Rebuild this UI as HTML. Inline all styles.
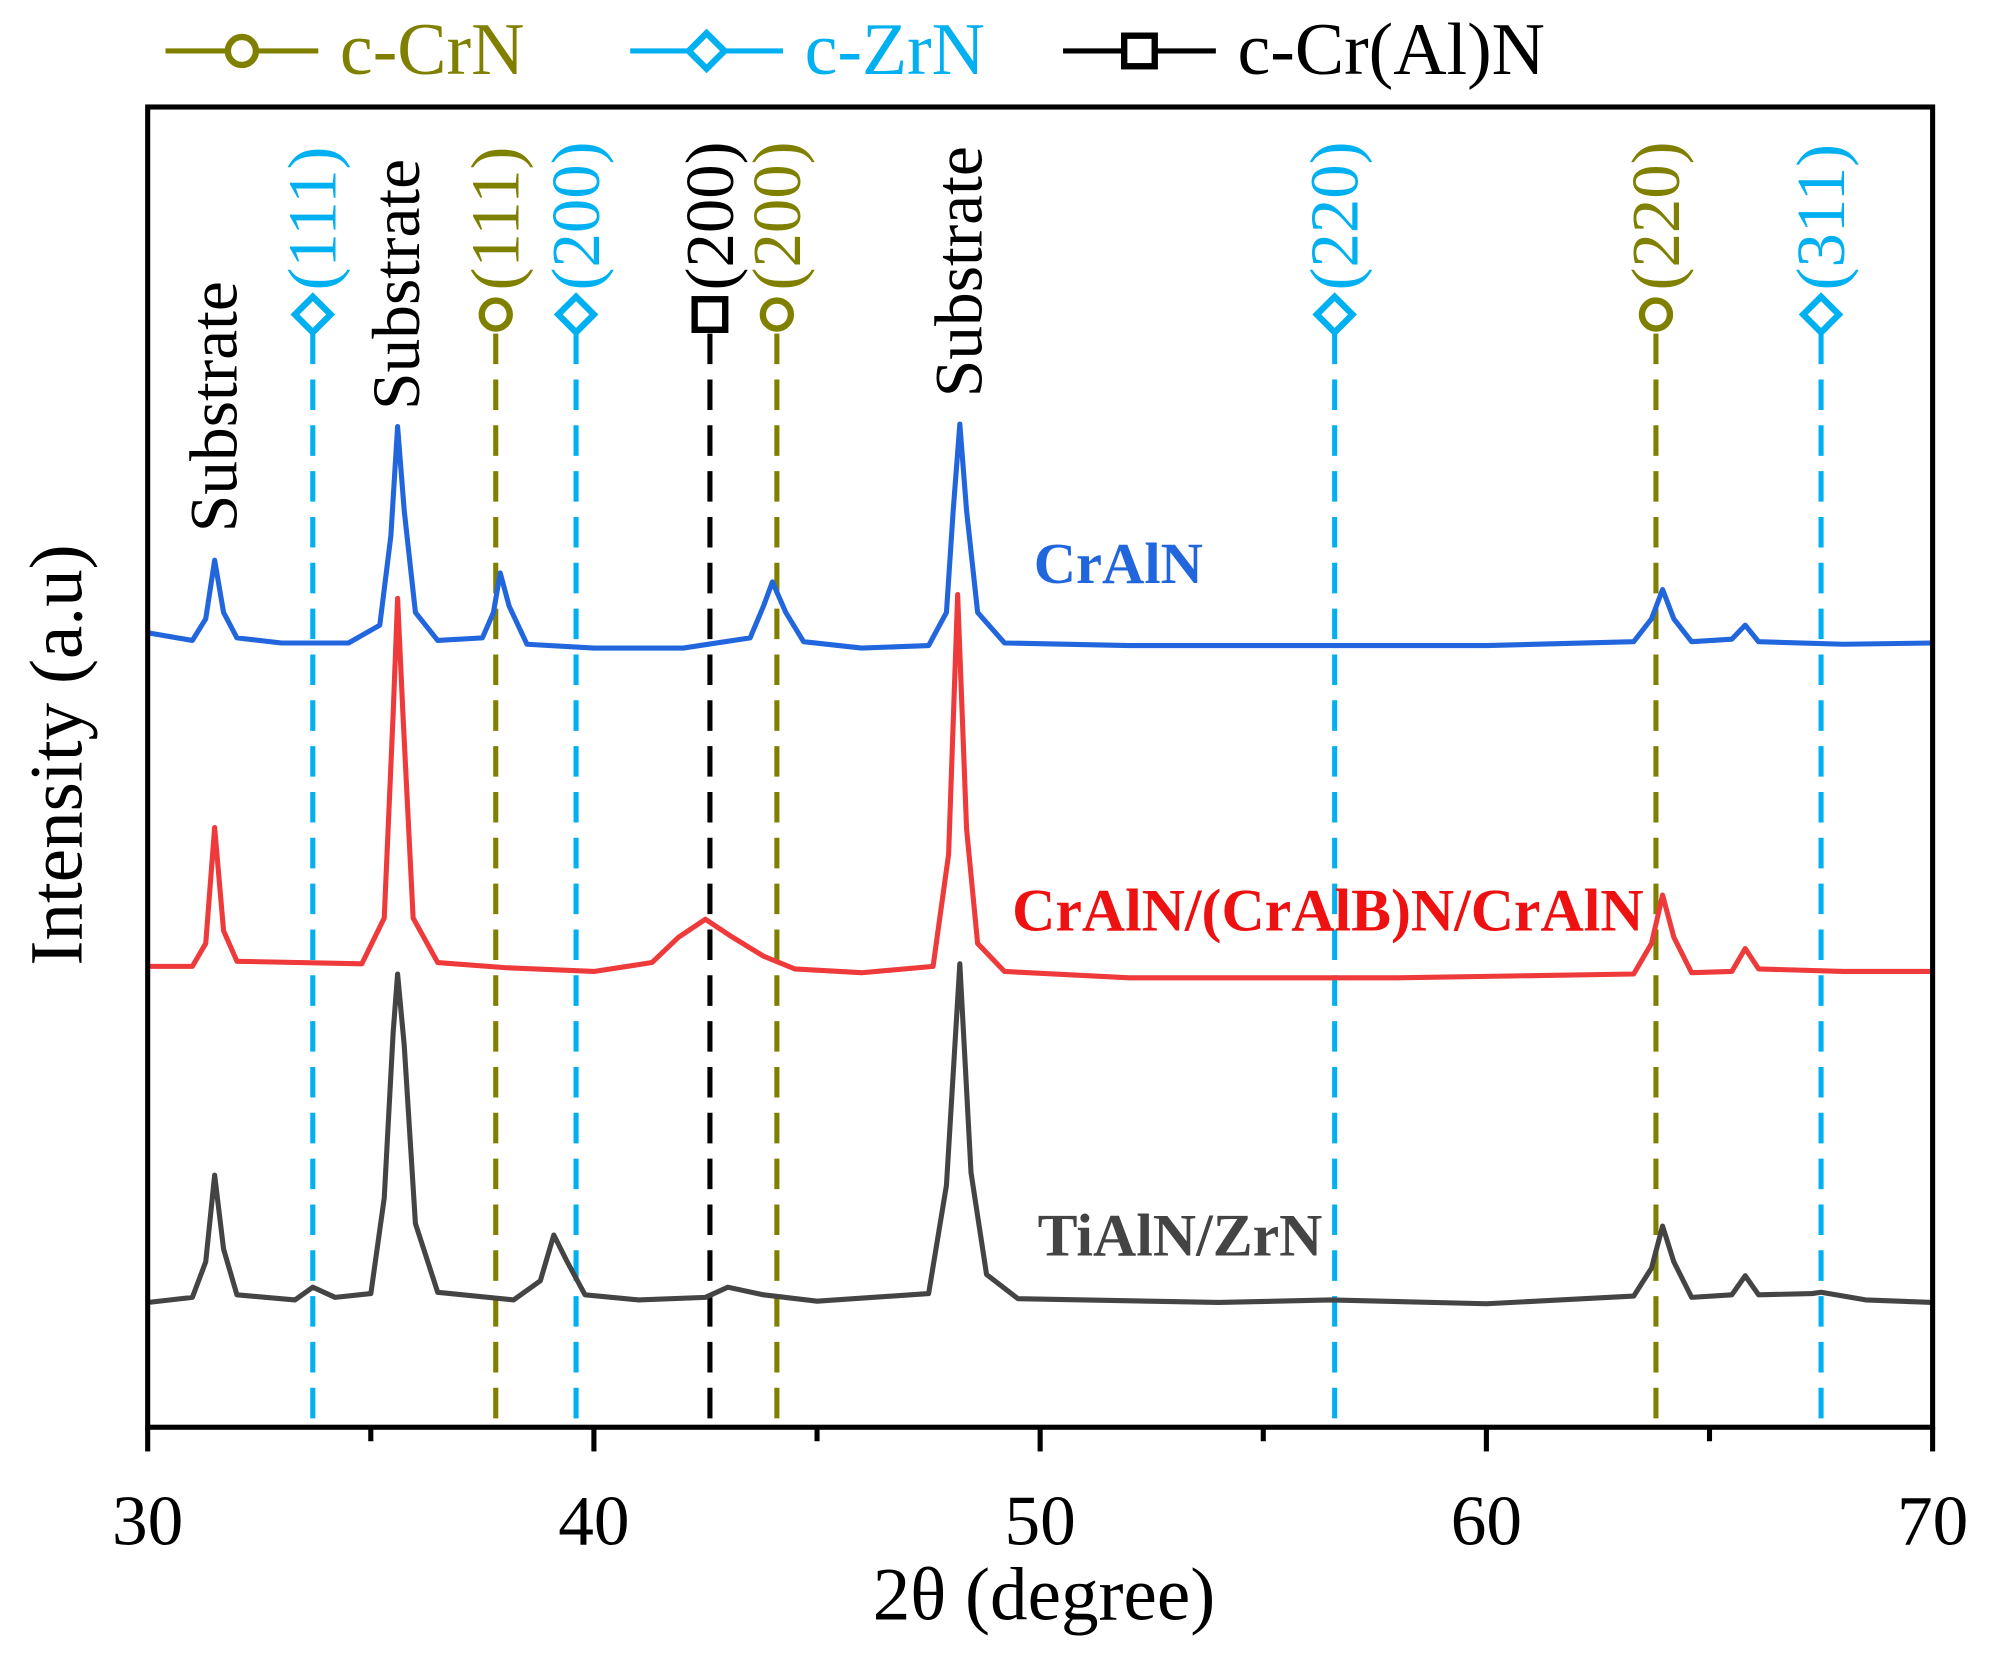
<!DOCTYPE html>
<html><head><meta charset="utf-8"><style>html,body{margin:0;padding:0;background:#fff}svg{display:block}text{font-family:"Liberation Serif",serif}</style></head>
<body>
<svg id="chart" width="1995" height="1659" viewBox="0 0 1567 1303" xmlns="http://www.w3.org/2000/svg" font-family="Liberation Serif, serif">
<g id="g"></g>
</svg>
<script>
const xTicks=[30,40,50,60,70];
const xMinor=[35,45,55,65];
const zrnPeaks=[33.7,39.6,56.6,67.5];
const zrnLabels=["(111)","(200)","(220)","(311)"];
const crnPeaks=[37.8,44.1,63.8];
const crnLabels=["(111)","(200)","(220)"];
const cralnPeaks=[42.6];
const cralnLabels=["(200)"];
const seriesCrAlN=[[30,624],[31.0,618],[31.3,635],[31.5,681],[31.7,640],[32.0,620],[33,616],[34.5,616],[35.2,630],[35.45,700],[35.6,786],[35.75,720],[36.0,640],[36.5,618],[37.5,620],[37.75,640],[37.9,671],[38.1,645],[38.5,615],[40,612],[42,612],[43.5,620],[43.8,645],[44.0,664],[44.3,640],[44.7,617],[46,612],[47.5,614],[47.9,640],[48.05,720],[48.2,788],[48.35,720],[48.6,640],[49.2,616],[52,614],[56,614],[60,614],[63.3,617],[63.7,635],[63.95,658],[64.2,635],[64.6,617],[65.5,619],[65.8,630],[66.1,617],[68,615],[70,616]];
const seriesMulti=[[30,362],[31,362],[31.3,380],[31.5,471],[31.7,390],[32,366],[34.8,364],[35.3,400],[35.5,560],[35.6,651],[35.72,560],[35.95,400],[36.5,365],[38,361],[40,358],[41.3,365],[41.9,385],[42.5,399],[43.1,385],[43.8,370],[44.5,360],[46,357],[47.6,362],[47.95,450],[48.15,654],[48.35,470],[48.6,380],[49.2,358],[52,353],[58,353],[63.3,356],[63.7,380],[63.95,418],[64.2,385],[64.6,357],[65.5,358],[65.8,376],[66.1,360],[68,358],[70,358]];
const seriesTiAlN=[[30,98],[31,102],[31.3,130],[31.5,198],[31.7,140],[32,104],[33.3,100],[33.7,110],[34.2,102],[35,105],[35.3,180],[35.5,310],[35.6,356],[35.75,300],[36.0,160],[36.5,106],[38.2,100],[38.8,115],[39.1,151],[39.4,130],[39.8,104],[41,100],[42.5,102],[43,110],[43.8,104],[45,99],[47.5,105],[47.9,190],[48.2,364],[48.45,200],[48.8,120],[49.5,101],[54,98],[56.5,100],[60,97],[63.3,103],[63.7,125],[63.95,158],[64.2,130],[64.6,102],[65.5,104],[65.8,119],[66.1,104],[67.3,105],[67.5,106],[68.5,100],[70,98]];

const L=116,R=1518,T=84,B=1121;
const xs=v=>L+(v-30)/40*(R-L);
const ys=v=>B-v;
const NS="http://www.w3.org/2000/svg";
const g=document.getElementById('g');
function mk(tag,attrs,parent){const e=document.createElementNS(NS,tag);for(const k in attrs)e.setAttribute(k,attrs[k]);(parent||g).appendChild(e);return e;}
function txt(s,attrs){attrs['font-family']='Liberation Serif, serif';const e=mk('text',attrs);e.textContent=s;return e;}
const OL="#808000",CY="#00b0f0";

function marker(type,x,y,col){
  let e;
  if(type==='c') e=mk('circle',{cx:x,cy:y,r:11,fill:'#fff',stroke:col,'stroke-width':5});
  else if(type==='d') e=mk('path',{d:`M${x} ${y-14}L${x+14} ${y}L${x} ${y+14}L${x-14} ${y}Z`,fill:'#fff',stroke:col,'stroke-width':5});
  else e=mk('rect',{x:x-12,y:y-12,width:24,height:24,fill:'#fff',stroke:col,'stroke-width':5});
  return e;
}
function refLines(peaks,labels,col,type,name){
  peaks.forEach((p,i)=>{
    const x=xs(p);
    const l=mk('line',{x1:x,y1:262,x2:x,y2:B,stroke:col,'stroke-width':4,'stroke-dasharray':'24,12'});
    
    
    const m=marker(type,x,247,col);
    
    
    const t=txt(labels[i],{x:0,y:0,transform:`translate(${x+18},228) rotate(-90)`,'font-size':54,fill:col});
    
    
  });
}
refLines(zrnPeaks,zrnLabels,CY,'d','zrn-ref');
refLines(crnPeaks,crnLabels,OL,'c','crn-ref');
refLines(cralnPeaks,cralnLabels,'#000','s','cr-al-n-ref');

function series(data,col,name){
  const d=data.map((p,i)=>(i?'L':'M')+xs(p[0]).toFixed(1)+' '+ys(p[1]).toFixed(1)).join('');
  const e=mk('path',{d,fill:'none',stroke:col,'stroke-width':4,'stroke-linejoin':'round'});
  
  
}
series(seriesCrAlN,'#2266dd','line-cralln');
series(seriesMulti,'#ee3a3a','line-cralln-cralbn');
series(seriesTiAlN,'#444444','line-tialn-zrn');

const fr=mk('rect',{x:L,y:T,width:R-L,height:B-T,fill:'none',stroke:'#000','stroke-width':4});


xTicks.forEach(v=>{
  const t=mk('line',{x1:xs(v),y1:B,x2:xs(v),y2:B+19,stroke:'#000','stroke-width':4});
  
  
  const l=txt(String(v),{x:xs(v),y:1213,'font-size':56,'text-anchor':'middle'});
  
  
});
xMinor.forEach(v=>{
  const t=mk('line',{x1:xs(v),y1:B,x2:xs(v),y2:B+11,stroke:'#000','stroke-width':4});
  
  
});
let e;
e=txt('2θ (degree)',{x:820,y:1272,'font-size':59,'text-anchor':'middle'});


e=txt('Intensity (a.u)',{x:0,y:0,transform:'translate(64,593) rotate(-90)','font-size':59,'text-anchor':'middle'});



[[31.5,418],[35.6,322],[48.2,312]].forEach(p=>{
  const s=txt('Substrate',{x:0,y:0,transform:`translate(${xs(p[0])+17},${p[1]}) rotate(-90)`,'font-size':53});
  
  
});
e=txt('CrAlN',{x:812,y:458,'font-size':46,'font-weight':'bold',fill:'#2266dd'});


e=txt('CrAlN/(CrAlB)N/CrAlN',{x:795,y:731,'font-size':47,'font-weight':'bold',fill:'#ee1111'});


e=txt('TiAlN/ZrN',{x:815,y:986,'font-size':47,'font-weight':'bold',fill:'#444'});



[[130,OL,'c','c-CrN'],[495,CY,'d','c-ZrN'],[835,'#000','s','c-Cr(Al)N']].forEach(it=>{
  const x=it[0];
  const ln=mk('line',{x1:x,y1:40,x2:x+120,y2:40,stroke:it[1],'stroke-width':4});
  
  
  const m=marker(it[2],x+60,40,it[1]);
  
  
  const t=txt(it[3],{x:x+137,y:58,'font-size':58,fill:it[1]});
  
  
});
</script>
</body></html>
